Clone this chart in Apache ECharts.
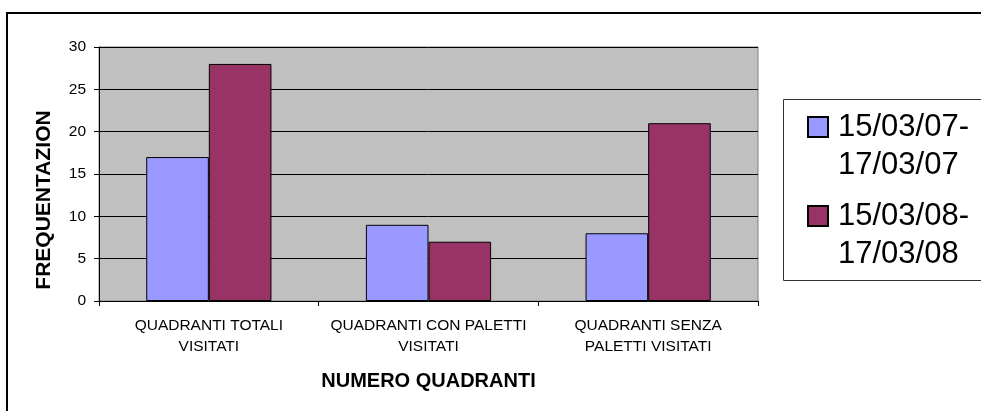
<!DOCTYPE html>
<html>
<head>
<meta charset="utf-8">
<script src="https://cdn.jsdelivr.net/npm/echarts@6/dist/echarts.min.js"></script>
<style>
  html, body { margin: 0; padding: 0; background: #fff; }
  #chart { width: 981px; height: 411px; }
</style>
</head>
<body>
<div id="chart"></div>
<script>
// Categories and series values
const categories = [
  'QUADRANTI TOTALI\nVISITATI',
  'QUADRANTI CON PALETTI\nVISITATI',
  'QUADRANTI SENZA\nPALETTI VISITATI'
];
const seriesNames = ['15/03/07-\n17/03/07', '15/03/08-\n17/03/08'];
const values2007 = [17, 9, 8];
const values2008 = [28, 7, 21];
const yTicks = { min: 0, max: 30, interval: 5 };

const FONT = 'Liberation Sans, Arial, sans-serif';
// Square marker sitting at the top of a taller box, so it lines up with the first text line
const legendIcon = 'path://M0,0H20V20H0Z M0,58';

const chart = echarts.init(document.getElementById('chart'), null, { renderer: 'canvas' });

chart.setOption({
  backgroundColor: '#ffffff',
  animation: false,
  grid: {
    left: 99, top: 47, right: 223, bottom: 110,
    show: true,
    backgroundColor: '#C0C0C0',
    borderColor: '#808080',
    borderWidth: 1
  },
  legend: {
    orient: 'vertical',
    left: 807,
    top: 108,
    padding: 0,
    itemGap: 13,
    itemWidth: 20,
    itemHeight: 58,
    icon: legendIcon,
    textStyle: {
      fontFamily: FONT,
      fontSize: 31,
      color: '#000',
      lineHeight: 38,
      padding: [0, 0, 0, 5]
    },
    data: seriesNames
  },
  xAxis: {
    type: 'category',
    data: categories,
    axisLine: { lineStyle: { color: '#000', width: 1 } },
    axisTick: { show: true, length: 5, lineStyle: { color: '#000' } },
    axisLabel: {
      interval: 0,
      margin: 14,
      fontFamily: FONT,
      fontSize: 15.5,
      lineHeight: 21,
      color: '#000'
    },
    name: 'NUMERO QUADRANTI',
    nameLocation: 'middle',
    nameGap: 70,
    nameTextStyle: {
      fontFamily: FONT,
      fontSize: 20,
      fontWeight: 'bold',
      color: '#000'
    }
  },
  yAxis: {
    type: 'value',
    min: yTicks.min,
    max: yTicks.max,
    interval: yTicks.interval,
    axisLine: { show: true, lineStyle: { color: '#000', width: 1 } },
    axisTick: { show: true, length: 5, lineStyle: { color: '#000' } },
    axisLabel: {
      margin: 13,
      fontFamily: FONT,
      fontSize: 15.5,
      color: '#000'
    },
    splitLine: { show: true, lineStyle: { color: '#000', width: 1 } }
  },
  series: [
    {
      name: seriesNames[0],
      type: 'bar',
      data: values2007,
      barGap: '0%',
      barCategoryGap: '43%',
      itemStyle: { color: '#9999FF', borderColor: '#000', borderWidth: 1 }
    },
    {
      name: seriesNames[1],
      type: 'bar',
      data: values2008,
      barGap: '0%',
      barCategoryGap: '43%',
      itemStyle: { color: '#993366', borderColor: '#000', borderWidth: 1 }
    }
  ],
  graphic: [
    {
      type: 'rect',
      shape: { x: 7, y: 13, width: 1000, height: 500 },
      style: { fill: 'none', stroke: '#000', lineWidth: 2 },
      silent: true,
      z: 0
    },
    {
      type: 'rect',
      shape: { x: 783.5, y: 99.5, width: 300, height: 181 },
      style: { fill: 'none', stroke: '#333', lineWidth: 1 },
      silent: true,
      z: 0
    },
    {
      type: 'text',
      x: 44,
      y: 200,
      rotation: Math.PI / 2,
      style: {
        text: 'FREQUENTAZION',
        fontFamily: FONT,
        fontSize: 21,
        fontWeight: 'bold',
        fill: '#000',
        align: 'center',
        verticalAlign: 'middle'
      },
      silent: true
    }
  ]
});
</script>
</body>
</html>
